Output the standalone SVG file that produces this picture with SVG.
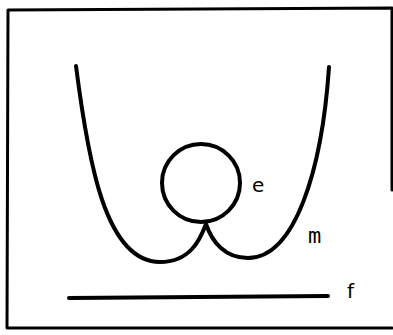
<svg xmlns="http://www.w3.org/2000/svg" width="393" height="335" viewBox="0 0 393 335">
<style>
.ln{fill:none;stroke:#000;stroke-linecap:round;stroke-linejoin:round}
.lbl{font-family:"DejaVu Sans",sans-serif;font-size:20px;fill:#000}
.mono{font-family:"DejaVu Sans Mono",monospace;font-size:22px;fill:#000}
</style>
<rect width="393" height="335" fill="#fff"/>
<g id="frame">
<path class="ln" d="M392,190 L392,8 L8,10 L7,328 L392,328" stroke-width="3"/>
</g>
<g id="m">
<path class="ln" stroke-width="4" d="M76,66 C88,160 105,262 160,262 C190,262 200,240 206,224 C212,242 225,258 248,258 C295,258 322,170 329,67"/>
</g>
<g id="e">
<circle class="ln" cx="201" cy="183" r="39" stroke-width="4"/>
</g>
<g id="f">
<line class="ln" x1="69" y1="298" x2="328" y2="296" stroke-width="4"/>
</g>
<g id="labels">
<text class="lbl" x="252" y="192">e</text>
<text class="mono" x="308" y="243">m</text>
<text class="lbl" x="347" y="298" font-size="21">f</text>
</g>
</svg>
